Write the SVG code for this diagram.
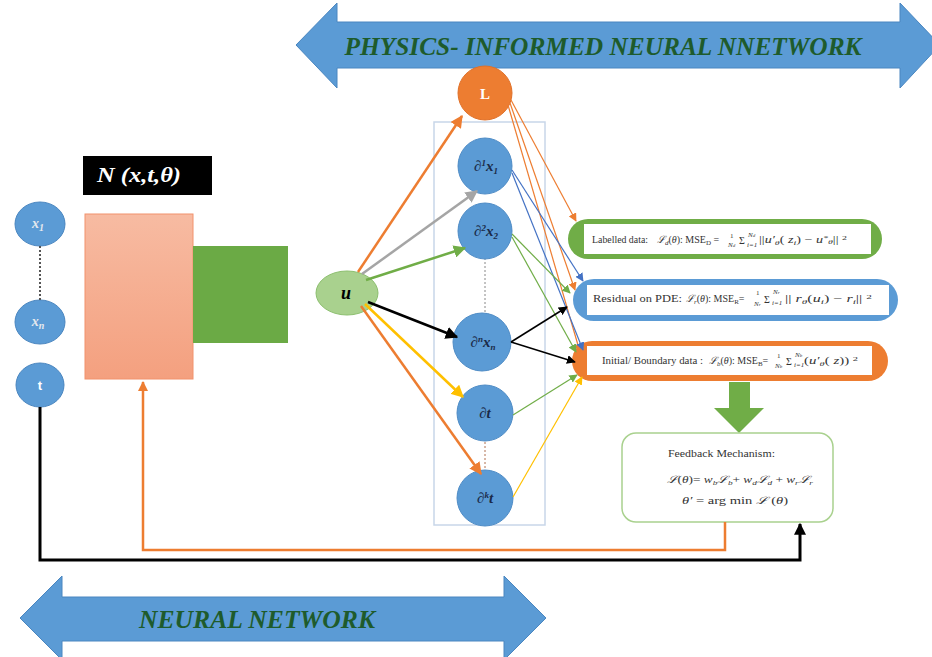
<svg xmlns="http://www.w3.org/2000/svg" width="932" height="657" viewBox="0 0 932 657">
<style>
.blue{fill:#5B9BD5;stroke:#4A86C0;stroke-width:1}
.dnode{fill:#5B9BD5;stroke:#4F8CC6;stroke-width:1}
.dlab{font-family:"Liberation Serif","DejaVu Serif",serif;font-weight:bold;font-style:italic;font-size:15px;fill:#1A2A48;text-anchor:middle}
.big{font-family:"Liberation Serif","DejaVu Serif",serif;font-weight:bold;font-style:italic;font-size:25px;fill:#1E5B2C;text-anchor:middle}
.f{font-family:"Liberation Serif","DejaVu Serif",serif;font-size:10px;fill:#333}
.fi{font-family:"Liberation Serif","DejaVu Serif",serif;font-size:10px;fill:#333;font-style:italic}
.s{font-size:7px}
.fb{font-family:"Liberation Serif","DejaVu Serif",serif;font-size:11px;fill:#333}
</style>
<defs>
<linearGradient id="sal" x1="0" y1="0" x2="0" y2="1">
<stop offset="0" stop-color="#F7BBA2"/>
<stop offset="1" stop-color="#F4A07F"/>
</linearGradient>
<marker id="mO" viewBox="0 0 10 10" refX="9" refY="5" markerWidth="5" markerHeight="5" orient="auto"><path d="M0,0 L10,5 L0,10 z" fill="#ED7D31"/></marker>
<marker id="mG" viewBox="0 0 10 10" refX="9" refY="5" markerWidth="5" markerHeight="5" orient="auto"><path d="M0,0 L10,5 L0,10 z" fill="#A5A5A5"/></marker>
<marker id="mGr" viewBox="0 0 10 10" refX="9" refY="5" markerWidth="5" markerHeight="5" orient="auto"><path d="M0,0 L10,5 L0,10 z" fill="#70AD47"/></marker>
<marker id="mK" viewBox="0 0 10 10" refX="9" refY="5" markerWidth="5" markerHeight="5" orient="auto"><path d="M0,0 L10,5 L0,10 z" fill="#000"/></marker>
<marker id="mY" viewBox="0 0 10 10" refX="9" refY="5" markerWidth="5" markerHeight="5" orient="auto"><path d="M0,0 L10,5 L0,10 z" fill="#FFC000"/></marker>
<marker id="sO" viewBox="0 0 10 10" refX="9" refY="5" markerWidth="7" markerHeight="7" orient="auto"><path d="M0,0 L10,5 L0,10 z" fill="#ED7D31"/></marker>
<marker id="sB" viewBox="0 0 10 10" refX="9" refY="5" markerWidth="7" markerHeight="7" orient="auto"><path d="M0,0 L10,5 L0,10 z" fill="#4472C4"/></marker>
<marker id="sGr" viewBox="0 0 10 10" refX="9" refY="5" markerWidth="7" markerHeight="7" orient="auto"><path d="M0,0 L10,5 L0,10 z" fill="#70AD47"/></marker>
<marker id="sK" viewBox="0 0 10 10" refX="9" refY="5" markerWidth="6" markerHeight="6" orient="auto"><path d="M0,0 L10,5 L0,10 z" fill="#000"/></marker>
<marker id="sY" viewBox="0 0 10 10" refX="9" refY="5" markerWidth="7" markerHeight="7" orient="auto"><path d="M0,0 L10,5 L0,10 z" fill="#FFC000"/></marker>
<marker id="lK" viewBox="0 0 10 10" refX="9" refY="5" markerWidth="4" markerHeight="4" orient="auto"><path d="M0,0 L10,5 L0,10 z" fill="#000"/></marker>
<marker id="lO" viewBox="0 0 10 10" refX="9" refY="5" markerWidth="4" markerHeight="4" orient="auto"><path d="M0,0 L10,5 L0,10 z" fill="#ED7D31"/></marker>
</defs>
<rect width="932" height="657" fill="#fff"/>

<g id="pinn-arrow">
<polygon class="blue" points="296,45 337,3 337,22 900,22 900,3 940,45 900,88 900,68 337,68 337,88"/>
<text class="big" x="603" y="55" textLength="517" lengthAdjust="spacingAndGlyphs">PHYSICS- INFORMED NEURAL NNETWORK</text>
</g>
<g id="nn-arrow">
<polygon class="blue" points="20,618 62,576 62,597 504,597 504,576 546,618 504,660 504,641 62,641 62,660"/>
<text class="big" x="257" y="628" textLength="236" lengthAdjust="spacingAndGlyphs">NEURAL NETWORK</text>
</g>

<g id="label-N">
<rect x="83" y="156" width="129" height="39" fill="#000"/>
<text x="97" y="182" font-family="Liberation Serif,DejaVu Serif,serif" font-weight="bold" font-style="italic" font-size="20" fill="#fff" textLength="84" lengthAdjust="spacingAndGlyphs">N (x,t,θ)</text>
</g>
<g id="net-block">
<rect x="85" y="214" width="108" height="165" fill="url(#sal)" stroke="#F2926C" stroke-width="1"/>
<rect x="193" y="246" width="95" height="97" fill="#6BAA45"/>
</g>

<g id="in-x1"><ellipse class="blue" cx="40" cy="224" rx="25" ry="22"/>
<text x="38" y="228" font-family="Liberation Serif,serif" font-style="italic" font-weight="bold" font-size="14" fill="#E6E9EE" text-anchor="middle">x<tspan dy="3" font-size="10">1</tspan></text></g>
<g id="in-xn"><ellipse class="blue" cx="40" cy="322" rx="25" ry="22"/>
<text x="38" y="326" font-family="Liberation Serif,serif" font-style="italic" font-weight="bold" font-size="14" fill="#E6E9EE" text-anchor="middle">x<tspan dy="3" font-size="10">n</tspan></text></g>
<g id="in-t"><ellipse class="blue" cx="40" cy="385" rx="24" ry="22"/>
<text x="40" y="390" font-family="Liberation Sans,sans-serif" font-weight="bold" font-size="13" fill="#fff" text-anchor="middle">t</text></g>
<line x1="40" y1="246" x2="40" y2="300" stroke="#555" stroke-width="2" stroke-dasharray="2,2"/>

<g id="deriv-box"><rect x="434" y="122" width="111" height="403" fill="none" stroke="#C8D6E9" stroke-width="1.5"/></g>
<line x1="485" y1="258" x2="485" y2="313" stroke="#888" stroke-width="1" stroke-dasharray="2,2"/>
<line x1="485" y1="442" x2="485" y2="470" stroke="#B07050" stroke-width="1" stroke-dasharray="2,2"/>

<g id="node-L"><circle cx="485" cy="93" r="27" fill="#ED7D31" stroke="#E07028"/>
<text x="485" y="99" font-family="Liberation Serif,serif" font-weight="bold" font-size="15" fill="#fff" text-anchor="middle">L</text></g>
<g id="node-d1x1"><ellipse class="dnode" cx="485" cy="166" rx="27" ry="28"/>
<text class="dlab" x="486" y="171">∂<tspan dy="-5" font-size="9">1</tspan><tspan dy="5">x</tspan><tspan dy="3" font-size="9">1</tspan></text></g>
<g id="node-d2x2"><ellipse class="dnode" cx="485" cy="231" rx="27" ry="28"/>
<text class="dlab" x="486" y="236">∂<tspan dy="-5" font-size="9">2</tspan><tspan dy="5">x</tspan><tspan dy="3" font-size="9">2</tspan></text></g>
<g id="node-dnxn"><ellipse class="dnode" cx="482" cy="342" rx="29" ry="29"/>
<text class="dlab" x="483" y="347">∂<tspan dy="-5" font-size="9">n</tspan><tspan dy="5">x</tspan><tspan dy="3" font-size="9">n</tspan></text></g>
<g id="node-dt"><ellipse class="dnode" cx="485" cy="413" rx="28" ry="28"/>
<text class="dlab" x="485" y="418">∂t</text></g>
<g id="node-dkt"><ellipse class="dnode" cx="485" cy="498" rx="28" ry="28"/>
<text class="dlab" x="485" y="503">∂<tspan dy="-5" font-size="9">k</tspan><tspan dy="5">t</tspan></text></g>

<g id="node-u"><ellipse cx="347" cy="293" rx="31" ry="22" fill="#A9D18E" stroke="#8CBF6E"/>
<text x="346" y="299" font-family="Liberation Serif,serif" font-weight="bold" font-style="italic" font-size="18" fill="#000" text-anchor="middle">u</text></g>

<g id="loss-labelled">
<rect x="568" y="219" width="314" height="40" rx="20" fill="#70AD47"/>
<rect x="584" y="224" width="287" height="30" fill="#fff"/>
<text class="f" x="592" y="243" textLength="56" lengthAdjust="spacingAndGlyphs">Labelled data:</text>
<text class="fi" x="657" y="243">ℒ<tspan class="s" dy="2">d</tspan><tspan dy="-2" font-style="normal">(</tspan>θ<tspan font-style="normal">): MSE</tspan><tspan class="s" dy="2" font-style="normal">D</tspan><tspan dy="-2" font-style="normal"> =</tspan></text>
<text class="f s" x="730" y="238">1</text><text class="fi s" x="728" y="247">N<tspan font-size="5">d</tspan></text>
<text class="f" x="739" y="244" font-size="12">Σ</text><text class="fi s" x="748" y="237">N<tspan font-size="5">d</tspan></text><text class="fi s" x="747" y="247">i=1</text>
<text class="fi" x="759" y="243" textLength="88" lengthAdjust="spacingAndGlyphs"><tspan font-style="normal">||</tspan>u′<tspan class="s" dy="2">θ</tspan><tspan dy="-2" font-style="normal">(</tspan> z<tspan class="s" dy="2">i</tspan><tspan dy="-2" font-style="normal">) −  </tspan>u<tspan class="s" dy="-3">*</tspan><tspan class="s" dy="4">θ</tspan><tspan dy="-1" font-style="normal">|| </tspan><tspan class="s" dy="-3" font-style="normal">2</tspan></text>
</g>

<g id="loss-residual">
<rect x="573" y="279" width="325" height="42" rx="21" fill="#5B9BD5"/>
<rect x="587" y="285" width="302" height="30" fill="#fff"/>
<text class="fb" x="593" y="302" textLength="89" lengthAdjust="spacingAndGlyphs">Residual on PDE:</text>
<text class="fi" x="686" y="302" font-size="11.5">ℒ<tspan class="s" dy="2">r</tspan><tspan dy="-2" font-style="normal">(</tspan>θ<tspan font-style="normal">): MSE</tspan><tspan class="s" dy="2" font-style="normal">R</tspan><tspan dy="-2" font-style="normal">=</tspan></text>
<text class="f s" x="756" y="295">1</text><text class="fi s" x="754" y="306">N<tspan font-size="5">r</tspan></text>
<text class="f" x="764" y="303" font-size="13">Σ</text><text class="fi s" x="773" y="294">N<tspan font-size="5">r</tspan></text><text class="fi s" x="772" y="305">i=1</text>
<text class="fi" x="785" y="302" font-size="11.5" textLength="87" lengthAdjust="spacingAndGlyphs"><tspan font-style="normal">|| </tspan>r<tspan class="s" dy="2">θ</tspan><tspan dy="-2" font-style="normal">(</tspan>u<tspan class="s" dy="2">i</tspan><tspan dy="-2" font-style="normal">)  −  </tspan>r<tspan class="s" dy="2">i</tspan><tspan dy="-2" font-style="normal">|| </tspan><tspan class="s" dy="-3" font-style="normal">2</tspan></text>
</g>

<g id="loss-boundary">
<rect x="572" y="341" width="316" height="40" rx="20" fill="#ED7D31"/>
<rect x="587" y="346" width="285" height="29" fill="#fff"/>
<text class="f" x="602" y="364" textLength="101" lengthAdjust="spacingAndGlyphs">Initial/ Boundary data :</text>
<text class="fi" x="709" y="364" font-size="10.5">ℒ<tspan class="s" dy="2">b</tspan><tspan dy="-2" font-style="normal">(</tspan>θ<tspan font-style="normal">): MSE</tspan><tspan class="s" dy="2" font-style="normal">B</tspan><tspan dy="-2" font-style="normal">=</tspan></text>
<text class="f s" x="777" y="358">1</text><text class="fi s" x="775" y="368">N<tspan font-size="5">b</tspan></text>
<text class="f" x="786" y="365" font-size="12">Σ</text><text class="fi s" x="795" y="357">N<tspan font-size="5">b</tspan></text><text class="fi s" x="794" y="367">i=1</text>
<text class="fi" x="804" y="364" font-size="10.5" textLength="54" lengthAdjust="spacingAndGlyphs"><tspan font-style="normal">(</tspan>u′<tspan class="s" dy="2">θ</tspan><tspan dy="-2" font-style="normal">( </tspan>z<tspan font-style="normal">)) </tspan><tspan class="s" dy="-3" font-style="normal">2</tspan></text>
</g>

<g id="down-arrow"><polygon points="729,382 750,382 750,408 764,408 739,433 714,408 729,408" fill="#70AD47"/></g>

<g id="feedback">
<rect x="622" y="433" width="211" height="89" rx="14" fill="#fff" stroke="#A9D18E" stroke-width="1.5"/>
<text class="fb" x="668" y="457" textLength="107" lengthAdjust="spacingAndGlyphs">Feedback Mechanism:</text>
<text class="fi" x="667" y="483" font-size="11.5" textLength="146" lengthAdjust="spacingAndGlyphs">ℒ<tspan font-style="normal">(</tspan>θ<tspan font-style="normal">)= </tspan>w<tspan class="s" dy="2">b</tspan><tspan dy="-2">ℒ</tspan><tspan class="s" dy="2">b</tspan><tspan dy="-2" font-style="normal">+ </tspan>w<tspan class="s" dy="2">d</tspan><tspan dy="-2">ℒ</tspan><tspan class="s" dy="2">d</tspan><tspan dy="-2" font-style="normal"> + </tspan>w<tspan class="s" dy="2">r</tspan><tspan dy="-2">ℒ</tspan><tspan class="s" dy="2">r</tspan></text>
<text class="fi" x="682" y="504" font-size="11.5" textLength="106" lengthAdjust="spacingAndGlyphs">θ′ <tspan font-style="normal">= arg min </tspan>ℒ <tspan font-style="normal">(</tspan>θ<tspan font-style="normal">)</tspan></text>
</g>

<g id="connectors" fill="none">
<line x1="358" y1="272" x2="462" y2="116" stroke="#ED7D31" stroke-width="2.5" marker-end="url(#mO)"/>
<line x1="362" y1="274" x2="477" y2="191" stroke="#A5A5A5" stroke-width="2.5" marker-end="url(#mG)"/>
<line x1="366" y1="280" x2="465" y2="248" stroke="#70AD47" stroke-width="2.5" marker-end="url(#mGr)"/>
<line x1="368" y1="302" x2="457" y2="337" stroke="#000" stroke-width="2.5" marker-end="url(#mK)"/>
<line x1="365" y1="304" x2="463" y2="397" stroke="#FFC000" stroke-width="2.5" marker-end="url(#mY)"/>
<line x1="361" y1="306" x2="481" y2="474" stroke="#ED7D31" stroke-width="2.5" marker-end="url(#mO)"/>

<line x1="511" y1="100" x2="576" y2="221" stroke="#ED7D31" stroke-width="1.2" marker-end="url(#sO)"/>
<line x1="510" y1="103" x2="575" y2="290" stroke="#ED7D31" stroke-width="1.2" marker-end="url(#sO)"/>
<line x1="508" y1="105" x2="580" y2="352" stroke="#ED7D31" stroke-width="1.2" marker-end="url(#sO)"/>
<line x1="512" y1="170" x2="583" y2="281" stroke="#4472C4" stroke-width="1.2" marker-end="url(#sB)"/>
<line x1="512" y1="173" x2="583" y2="350" stroke="#4472C4" stroke-width="1.2" marker-end="url(#sB)"/>
<line x1="512" y1="234" x2="570" y2="293" stroke="#70AD47" stroke-width="1.2" marker-end="url(#sGr)"/>
<line x1="512" y1="237" x2="576" y2="352" stroke="#70AD47" stroke-width="1.2" marker-end="url(#sGr)"/>
<line x1="511" y1="342" x2="567" y2="307" stroke="#000" stroke-width="1.5" marker-end="url(#sK)"/>
<line x1="511" y1="342" x2="575" y2="362" stroke="#000" stroke-width="1.5" marker-end="url(#sK)"/>
<line x1="513" y1="415" x2="577" y2="375" stroke="#70AD47" stroke-width="1.2" marker-end="url(#sGr)"/>
<line x1="513" y1="497" x2="582" y2="377" stroke="#FFC000" stroke-width="1.2" marker-end="url(#sY)"/>

<path d="M40,407 L40,560 L800,560 L800,524" stroke="#000" stroke-width="3" marker-end="url(#lK)"/>
<path d="M725,522 L725,550 L143,550 L143,382" stroke="#ED7D31" stroke-width="2.5" marker-end="url(#lO)"/>
</g>
</svg>
